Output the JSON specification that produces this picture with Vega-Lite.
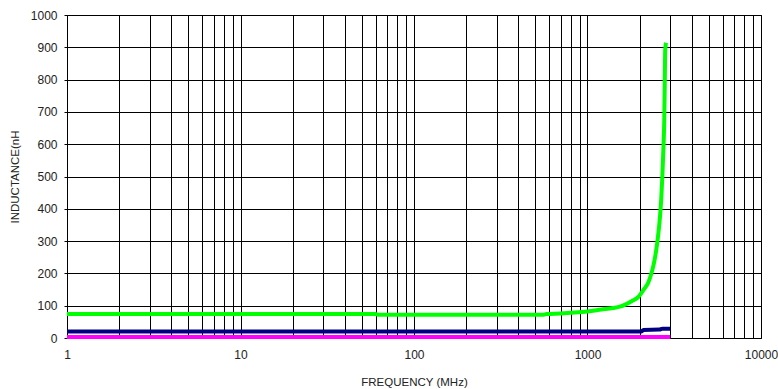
{
  "$schema": "https://vega.github.io/schema/vega-lite/v6.json",
  "width": 694,
  "height": 323,
  "autosize": {"type": "none"},
  "padding": {"left": 67, "top": 15, "right": 17, "bottom": 51},
  "background": "white",
  "config": {
    "font": "Liberation Sans",
    "view": {"stroke": "black", "strokeWidth": 1},
    "axis": {
      "gridColor": "black",
      "gridOpacity": 1,
      "gridWidth": 1,
      "domain": false,
      "labelFont": "Liberation Sans",
      "labelFontSize": 12,
      "labelColor": "#222222",
      "titleFont": "Liberation Sans",
      "titleFontSize": 11.5,
      "titleFontWeight": "normal",
      "titleColor": "#222222"
    }
  },
  "data": {
    "values": [
      {"f": 1, "L": 74, "s": "A"}, {"f": 5, "L": 74, "s": "A"}, {"f": 20, "L": 74, "s": "A"}, {"f": 60, "L": 74, "s": "A"},
      {"f": 62, "L": 72, "s": "A"}, {"f": 200, "L": 72, "s": "A"}, {"f": 560, "L": 72, "s": "A"}, {"f": 580, "L": 74, "s": "A"},
      {"f": 700, "L": 76, "s": "A"}, {"f": 800, "L": 78, "s": "A"}, {"f": 1000, "L": 82, "s": "A"}, {"f": 1200, "L": 88, "s": "A"},
      {"f": 1400, "L": 93, "s": "A"}, {"f": 1538, "L": 97, "s": "A"}, {"f": 1836, "L": 117, "s": "A"}, {"f": 1963, "L": 127, "s": "A"},
      {"f": 2099, "L": 148, "s": "A"}, {"f": 2241, "L": 172, "s": "A"}, {"f": 2320, "L": 195, "s": "A"}, {"f": 2400, "L": 225, "s": "A"},
      {"f": 2483, "L": 268, "s": "A"}, {"f": 2560, "L": 323, "s": "A"}, {"f": 2617, "L": 375, "s": "A"}, {"f": 2660, "L": 430, "s": "A"},
      {"f": 2700, "L": 500, "s": "A"}, {"f": 2740, "L": 590, "s": "A"}, {"f": 2770, "L": 674, "s": "A"}, {"f": 2790, "L": 800, "s": "A"},
      {"f": 2805, "L": 891, "s": "A"}, {"f": 2834, "L": 914, "s": "A"},
      {"f": 1, "L": 20.5, "s": "B"}, {"f": 100, "L": 20.5, "s": "B"}, {"f": 1000, "L": 20.5, "s": "B"}, {"f": 2050, "L": 20.5, "s": "B"},
      {"f": 2100, "L": 25, "s": "B"}, {"f": 2600, "L": 26, "s": "B"}, {"f": 2700, "L": 29, "s": "B"}, {"f": 3000, "L": 29, "s": "B"},
      {"f": 1, "L": 3, "s": "C"}, {"f": 3000, "L": 3, "s": "C"}
    ]
  },
  "mark": {"type": "line", "strokeWidth": 4, "clip": false, "interpolate": "monotone"},
  "encoding": {
    "x": {
      "field": "f",
      "type": "quantitative",
      "scale": {"type": "log", "domain": [1, 10000], "nice": false},
      "axis": {
        "title": "FREQUENCY (MHz)",
        "titlePadding": 16,
        "values": [1,2,3,4,5,6,7,8,9,10,20,30,40,50,60,70,80,90,100,200,300,400,500,600,700,800,900,1000,2000,3000,4000,5000,6000,7000,8000,9000,10000],
        "format": "d",
        "labelExpr": "indexof([1,10,100,1000,10000], datum.value) >= 0 ? datum.label : ''",
        "tickSize": 0,
        "labelPadding": 11,
        "labelFlush": false,
        "labelOverlap": false
      }
    },
    "y": {
      "field": "L",
      "type": "quantitative",
      "scale": {"domain": [0, 1000], "nice": false},
      "axis": {
        "title": "INDUCTANCE(nH",
        "values": [0,100,200,300,400,500,600,700,800,900,1000],
        "format": "d",
        "tickSize": 3,
        "tickColor": "black",
        "labelPadding": 7,
        "titlePadding": 10
      }
    },
    "color": {
      "field": "s",
      "type": "nominal",
      "scale": {"domain": ["A", "B", "C"], "range": ["#00FF00", "#000080", "#FF00FF"]},
      "legend": null
    },
    "order": {"field": "f", "type": "quantitative"}
  }
}
